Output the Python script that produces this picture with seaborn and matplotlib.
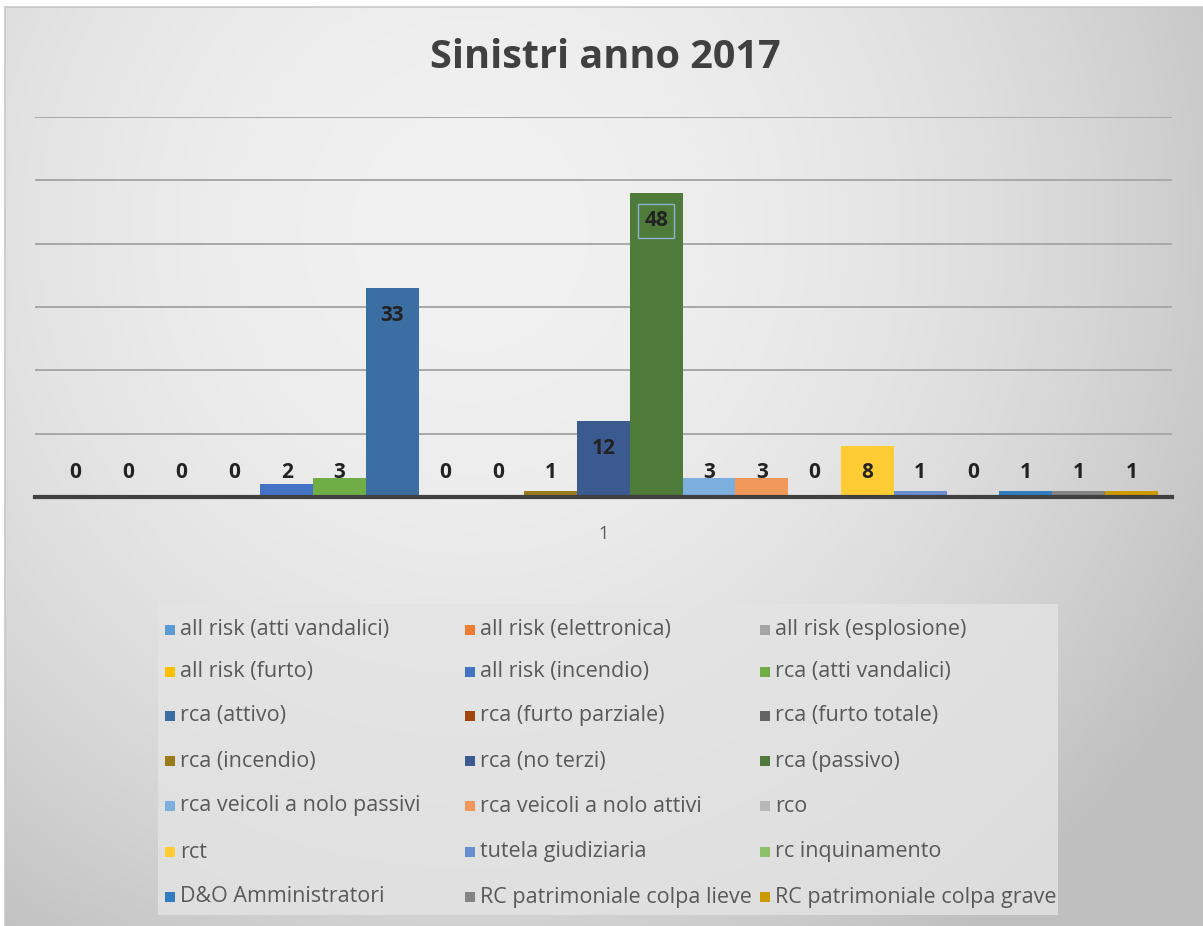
import numpy as np
import pandas as pd
import matplotlib
matplotlib.use("Agg")
import matplotlib.pyplot as plt
from matplotlib.patches import Rectangle
import seaborn as sns

# --- data -------------------------------------------------------------
series = [
    "all risk (atti vandalici)", "all risk (elettronica)", "all risk (esplosione)",
    "all risk (furto)", "all risk (incendio)", "rca (atti vandalici)",
    "rca (attivo)", "rca (furto parziale)", "rca (furto totale)",
    "rca (incendio)", "rca (no terzi)", "rca (passivo)",
    "rca veicoli a nolo passivi", "rca veicoli a nolo attivi", "rco",
    "rct", "tutela giudiziaria", "rc inquinamento",
    "D&O Amministratori", "RC patrimoniale colpa lieve", "RC patrimoniale colpa grave",
]
values = [0, 0, 0, 0, 2, 3, 33, 0, 0, 1, 12, 48, 3, 3, 0, 8, 1, 0, 1, 1, 1]
category = "1"
colors = [
    "#5B9BD5", "#ED7D31", "#A5A5A5", "#FFC000", "#4472C4", "#70AD47",
    "#3B6FA3", "#9E480E", "#636363", "#9A7A1A", "#3A5A90", "#4E7A3A",
    "#7CAFDD", "#F1975A", "#B7B7B7", "#FFCD33", "#698ED0", "#8CC168",
    "#327DC2", "#848484", "#CC9A00",
]
title = "Sinistri anno 2017"

df = pd.DataFrame({"categoria": [category] * len(series), "serie": series, "valore": values})

sns.set_theme(style="white")
plt.rcParams["font.family"] = ["Open Sans", "DejaVu Sans"]

W, H = 1203, 926
fig = plt.figure(figsize=(W / 100, H / 100), dpi=100)
fig.patch.set_facecolor("white")

# --- soft radial background ------------------------------------------
bg = fig.add_axes([5 / W, 0, 1 - 5 / W, (H - 7) / H], zorder=-10)
yy, xx = np.mgrid[7:H, 5:W]
r2 = ((xx - 470) / 800.0) ** 2 + ((yy - 230) / 820.0) ** 2
shade = np.clip(0.945 - 0.175 * r2, 0.75, 0.95)
bg.imshow(np.dstack([shade] * 3), aspect="auto", extent=[0, 1, 0, 1], origin="upper")
bg.set_xlim(0, 1)
bg.set_ylim(0, 1)
bg.axis("off")
fig.add_artist(plt.Line2D([5 / W, 1], [(H - 7) / H] * 2, color="#c8c8c8", lw=1.2))
fig.add_artist(plt.Line2D([5 / W] * 2, [0, (H - 7) / H], color="#c8c8c8", lw=1.2))

# --- bars -------------------------------------------------------------
ax = fig.add_axes([35 / W, (H - 497) / H, (1172 - 35) / W, (497 - 117) / H])
ax.set_facecolor("none")
sns.barplot(data=df, x="categoria", y="valore", hue="serie", hue_order=series,
            palette=colors, saturation=1, width=0.975, gap=0, legend=False,
            linewidth=0, ax=ax)
ax.set_xlim(-0.5, 0.5)
ax.set_ylim(0, 60)
ax.set_yticks(np.arange(10, 61, 10))
ax.yaxis.grid(True, color="#a8a8a8", lw=1.4)
ax.set_axisbelow(True)
ax.tick_params(axis="y", left=False, labelleft=False)
ax.tick_params(axis="x", length=0, pad=20, labelsize=13, labelcolor="#595959")
ax.set_xlabel("")
ax.set_ylabel("")
for s in ["top", "right", "left"]:
    ax.spines[s].set_visible(False)
ax.spines["bottom"].set_color("#404040")
ax.spines["bottom"].set_linewidth(3)

# value labels: inside the top of tall bars, floated above short ones
for cont, v in zip(ax.containers, values):
    bar = cont[0]
    xc = bar.get_x() + bar.get_width() / 2
    ypos = max(v - 4.4, 3.8)
    kw = {}
    if v == max(values):
        kw["bbox"] = dict(boxstyle="square,pad=0.3", fc="none", ec="#8fb3d0", lw=1)
    ax.text(xc, ypos, str(v), ha="center", va="center", fontsize=15,
            fontweight="bold", color="#222222", **kw)

# --- title ------------------------------------------------------------
fig.text(605 / W, 1 - 58 / H, title, ha="center", va="center", fontsize=28.5,
         fontweight="bold", color="#404040")

# --- legend (row-major, three fixed columns) -------------------------
fig.add_artist(Rectangle((158 / W, 1 - 915 / H), (1058 - 158) / W, (915 - 604) / H,
                         transform=fig.transFigure, fc="#e4e4e4", ec="none", alpha=0.8,
                         zorder=-5))
col_x = [165, 465, 760]
row_y = [630, 672, 716, 761, 806, 852, 897]
for i, (name, c) in enumerate(zip(series, colors)):
    r, k = divmod(i, 3)
    x0, y0 = col_x[k], row_y[r]
    fig.add_artist(Rectangle((x0 / W, 1 - (y0 + 5) / H), 10 / W, 10 / H,
                             transform=fig.transFigure, fc=c, ec="none"))
    fig.text((x0 + 15) / W, 1 - y0 / H, name, ha="left", va="center",
             fontsize=15.5, color="#595959")

fig.savefig("out.png", dpi=100)
